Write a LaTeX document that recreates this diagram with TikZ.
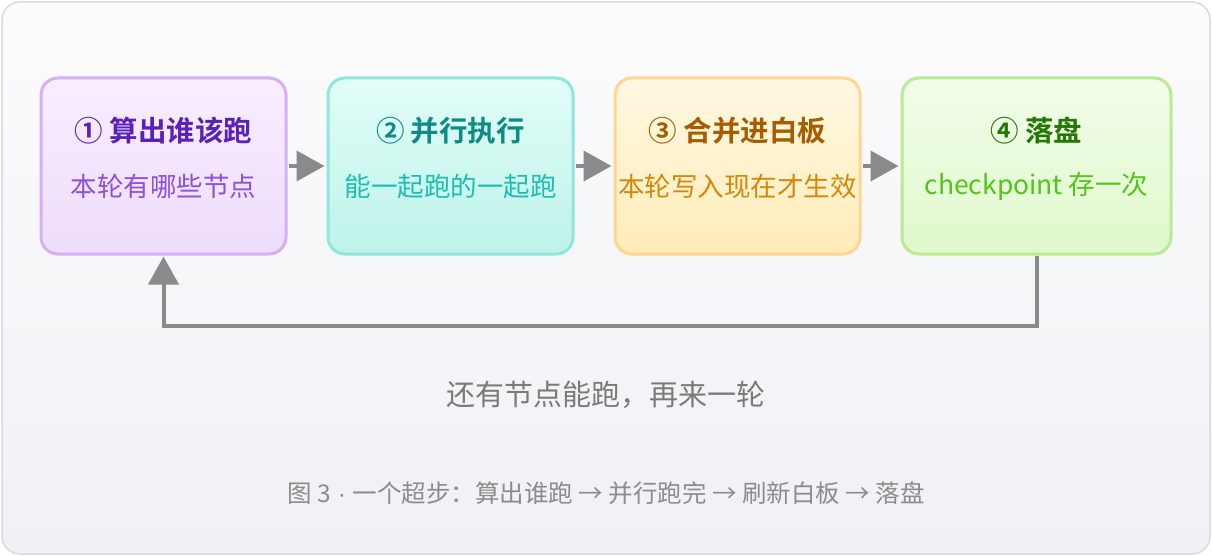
\documentclass[tikz,border=0pt]{standalone}
\usepackage{fontspec}
\setmainfont{Noto Sans CJK SC}[BoldFont={Noto Sans CJK SC Bold}]
\newfontfamily\dotfont{Liberation Sans}
\usetikzlibrary{arrows.meta}
\definecolor{frameb}{HTML}{D9D9DE}
\definecolor{frametop}{HTML}{FCFCFD}
\definecolor{framebot}{HTML}{F0F1F5}
\definecolor{arr}{HTML}{8A8A8A}
\definecolor{pA}{HTML}{F8EEFF}\definecolor{pB}{HTML}{EEDCFC}\definecolor{pD}{HTML}{D6B0F5}
\definecolor{pT}{HTML}{5B21B6}\definecolor{pS}{HTML}{8E4FDA}
\definecolor{cA}{HTML}{E2FDF8}\definecolor{cB}{HTML}{BDF3E9}\definecolor{cD}{HTML}{8FE6DB}
\definecolor{cT}{HTML}{0F8A84}\definecolor{cS}{HTML}{1DBDB3}
\definecolor{oA}{HTML}{FFF8E3}\definecolor{oB}{HTML}{FFECB8}\definecolor{oD}{HTML}{FFD591}
\definecolor{oT}{HTML}{A65C00}\definecolor{oS}{HTML}{D4880A}
\definecolor{gA}{HTML}{F2FDEA}\definecolor{gB}{HTML}{DFF8CB}\definecolor{gD}{HTML}{B9EB92}
\definecolor{gT}{HTML}{237804}\definecolor{gS}{HTML}{52C41A}
\definecolor{lbl}{HTML}{7A7A7A}
\definecolor{cap}{HTML}{8C8C8C}
\tikzset{
  card/.style={draw, line width=3pt, rounded corners=17pt, minimum height=176pt, inner sep=0pt},
  ttl/.style={font=\bfseries\fontsize{28.5}{32}\selectfont},
  sub/.style={font=\fontsize{26.5}{30}\selectfont},
  flow/.style={draw=arr, line width=4pt, -{Triangle[length=28pt,width=30pt]}},
}
\begin{document}
\begin{tikzpicture}[x=1pt,y=-1pt]
\useasboundingbox (0,0) rectangle (1212,556);
\path[draw=frameb, line width=1.5pt, rounded corners=18pt, top color=frametop, bottom color=framebot] (2,2) rectangle (1210,554);

\node[card, draw=pD, top color=pA, bottom color=pB, minimum width=245pt] (b1) at (163.5,166) {};
\node[card, draw=cD, top color=cA, bottom color=cB, minimum width=245pt] (b2) at (450.5,166) {};
\node[card, draw=oD, top color=oA, bottom color=oB, minimum width=245pt] (b3) at (737.5,166) {};
\node[card, draw=gD, top color=gA, bottom color=gB, minimum width=269pt] (b4) at (1036.5,166) {};

\node[ttl, text=pT] (t1) at (163.5,131) {① 算出谁该跑};
\node[sub, text=pS] (s1) at (163.5,186) {本轮有哪些节点};
\node[ttl, text=cT] (t2) at (450.5,131) {② 并行执行};
\node[sub, text=cS] (s2) at (450.5,186) {能一起跑的一起跑};
\node[ttl, text=oT] (t3) at (737.5,131) {③ 合并进白板};
\node[sub, text=oS] (s3) at (737.5,186) {本轮写入现在才生效};
\node[ttl, text=gT] (t4) at (1036.5,131) {④ 落盘};
\node[sub, text=gS] (s4) at (1036.5,186) {checkpoint 存一次};

\draw[flow, shorten <=1pt, shorten >=2pt] (b1.east) -- (b2.west);
\draw[flow, shorten <=1pt, shorten >=2pt] (b2.east) -- (b3.west);
\draw[flow, shorten <=1pt, shorten >=2pt] (b3.east) -- (b4.west);
\coordinate (r1) at (1036.5,326);
\coordinate (r2) at (163.5,326);
\draw[flow, line cap=butt, shorten >=1pt] (b4.south) -- (r1) -- (r2) -- (b1.south);

\node[text=lbl, font=\fontsize{29}{33}\selectfont] (lab) at (606,395) {还有节点能跑，再来一轮};
\node[text=cap, font=\fontsize{24.5}{28}\selectfont] (capt) at (606,493) {图 3{\dotfont\ ·\ }一个超步：算出谁跑 → 并行跑完 → 刷新白板 → 落盘};
\end{tikzpicture}
\end{document}
